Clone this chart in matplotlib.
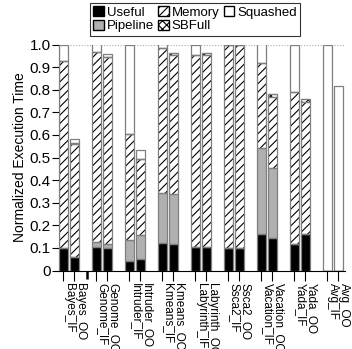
import matplotlib
matplotlib.use("Agg")
import matplotlib.pyplot as plt
import matplotlib.transforms as mtransforms
import numpy as np
from matplotlib.patches import Patch

plt.rcParams['font.family'] = ['Liberation Sans', 'DejaVu Sans']
plt.rcParams['hatch.linewidth'] = 0.8

benchmarks = ["Bayes", "Genome", "Intruder", "Kmeans", "Labyrinth", "Ssca2", "Vacation", "Yada", "Avg"]
variants = ["OO", "IF"]
tick_labels = ["Bayes_IF", "Bayes_OO", "Genome_IF", "Genome_OO", "Intruder_IF", "Intruder_OO",
               "Kmeans_IF", "Kmeans_OO", "Labyrinth_IF", "Labyrinth_OO", "Ssca2_IF", "Ssca2_OO",
               "Vacation_IF", "Vacation_OO", "Yada_IF", "Yada_OO", "Avg_IF", "Avg_OO"]

useful   = [0.098, 0.058, 0.105, 0.101, 0.042, 0.051, 0.120, 0.117, 0.105, 0.105, 0.101, 0.101, 0.162, 0.142, 0.116, 0.160, 0.0, 0.0]
pipeline = [0.000, 0.000, 0.021, 0.015, 0.093, 0.106, 0.224, 0.220, 0.000, 0.000, 0.000, 0.000, 0.379, 0.313, 0.002, 0.000, 0.0, 0.0]
memory   = [0.829, 0.500, 0.842, 0.827, 0.470, 0.336, 0.639, 0.616, 0.848, 0.848, 0.899, 0.899, 0.376, 0.314, 0.670, 0.587, 0.0, 0.0]
sbfull   = [0.000, 0.004, 0.000, 0.000, 0.000, 0.000, 0.000, 0.011, 0.000, 0.008, 0.000, 0.000, 0.000, 0.011, 0.000, 0.010, 0.0, 0.0]
squashed = [0.073, 0.018, 0.032, 0.015, 0.395, 0.042, 0.017, 0.000, 0.047, 0.000, 0.000, 0.000, 0.083, 0.000, 0.212, 0.000, 1.0, 0.816]

series = [
    ("Useful", useful, dict(color="black", hatch=None)),
    ("Pipeline", pipeline, dict(color="#b0b0b0", hatch=None)),
    ("Memory", memory, dict(color="white", hatch="////")),
    ("SBFull", sbfull, dict(color="white", hatch="xxxx")),
    ("Squashed", squashed, dict(color="white", hatch=None)),
]

pos = []
for g in range(len(benchmarks)):
    for v in range(len(variants)):
        pos.append(3 * g + v)
pos = np.array(pos, dtype=float)

fig = plt.figure(figsize=(3.52, 3.49), dpi=100)
ax = fig.add_axes([59/352, 1 - 270.5/349, (345 - 59)/352, (270.5 - 44.5)/349])

width = 0.78
bottom = np.zeros(len(pos))
for name, vals, st in series:
    vals = np.array(vals)
    ax.bar(pos, vals, width, bottom=bottom, color=st["color"], hatch=st["hatch"],
           edgecolor="black", linewidth=0, zorder=2)
    ax.bar(pos, vals, width, bottom=bottom, fill=False, edgecolor="#7f7f7f",
           linewidth=0.9, zorder=3)
    bottom += vals

ax.axhline(1.0, color="#aaaaaa", linestyle=(0, (1, 1.5)), linewidth=0.8, zorder=1)

ax.set_xlim(-0.4, 25.6)
ax.set_ylim(0, 1.0)
yt = np.arange(0, 1.01, 0.1)
ax.set_yticks(yt)
ax.set_yticklabels(["0"] + ["%.1f" % v for v in yt[1:]], fontsize=11)
ax.set_xticks(pos)
ax.set_xticklabels(tick_labels, rotation=270, fontsize=8.5, ha="left", va="top")
offset = mtransforms.ScaledTranslation(-2/72, -2/72, fig.dpi_scale_trans)
for lbl in ax.get_xticklabels():
    lbl.set_transform(lbl.get_transform() + offset)
ax.set_xticks([2.15], minor=True)
ax.tick_params(axis="x", which="minor", length=6, width=1.8, color="black")
ax.tick_params(axis="x", which="major", length=7, width=0.8, pad=2)
ax.tick_params(axis="y", length=5, width=0.8, pad=1)
for s in ["top", "right"]:
    ax.spines[s].set_visible(False)
ax.spines["left"].set_linewidth(0.8)
ax.spines["bottom"].set_linewidth(0.8)
ax.set_ylabel("Normalized Execution Time", fontsize=10, labelpad=2)

handles = [
    Patch(facecolor="black", edgecolor="black", label="Useful"),
    Patch(facecolor="#b0b0b0", edgecolor="black", label="Pipeline"),
    Patch(facecolor="white", edgecolor="black", hatch="////", label="Memory"),
    Patch(facecolor="white", edgecolor="black", hatch="xxxx", label="SBFull"),
    Patch(facecolor="white", edgecolor="black", label="Squashed"),
]
leg = fig.legend(handles=handles, ncol=3, loc="upper center",
                 bbox_to_anchor=(195/352, 1 - 3/349), fontsize=9.5, frameon=True,
                 fancybox=False, edgecolor="black", handlelength=0.8, handleheight=0.8,
                 handletextpad=0.25, columnspacing=0.3, labelspacing=0.05,
                 borderpad=0.25, borderaxespad=0)
leg.get_frame().set_linewidth(0.8)

fig.savefig("out.png", dpi=100)
